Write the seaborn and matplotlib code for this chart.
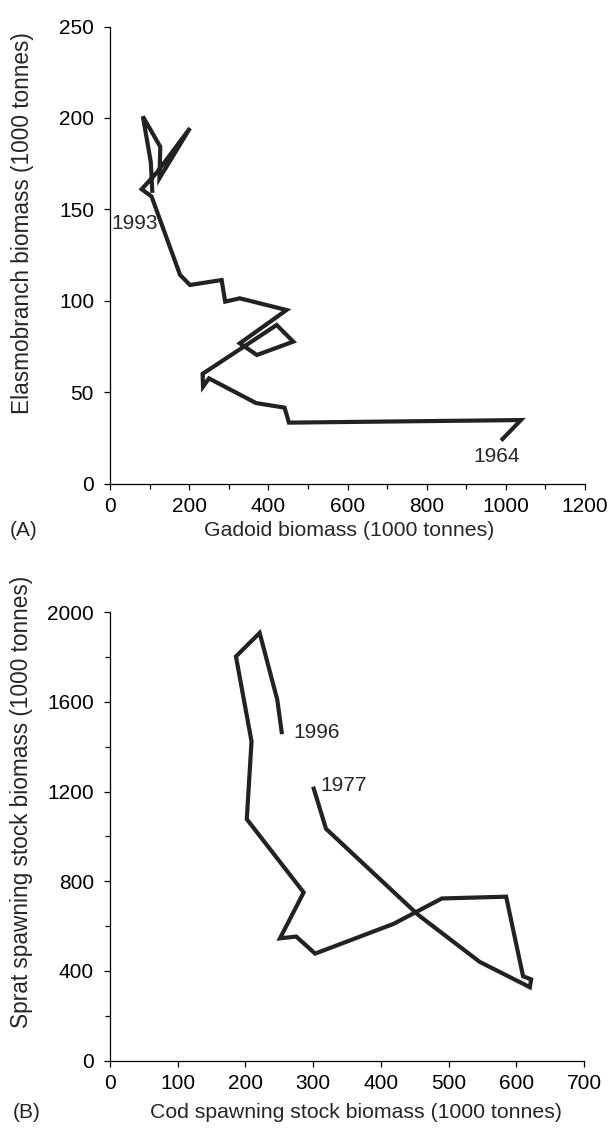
"""Elasmobranch vs gadoid and sprat vs cod biomass trajectories."""

import matplotlib
matplotlib.use("Agg")
import matplotlib.pyplot as plt
import numpy as np
import pandas as pd
import seaborn as sns
from matplotlib.ticker import MultipleLocator

# (A) North Sea, 1964 -> 1993, 1000 tonnes
gadoid = [988, 1038, 452, 441, 369, 250, 235, 234, 421, 463, 371, 328, 446,
          328, 291, 282, 202, 177, 105, 80, 118, 202, 125, 127, 83, 103, 107]
elasmo = [23.5, 34.7, 33.3, 41.5, 44.0, 57.5, 53.0, 60.0, 86.7, 77.6, 70.3, 76.7, 94.9,
          101.3, 99.5, 111.3, 108.6, 114.1, 157.0, 161.0, 170.0, 194.4, 167.0, 184.2, 200.8,
          176.0, 159.0]

# (B) Baltic, 1977 -> 1996, 1000 tonnes
cod_ssb = [300, 319, 455, 546, 620, 622, 610, 585, 490, 419, 303, 275, 251, 286,
           202, 209, 186, 221, 247, 254]
sprat_ssb = [1222, 1034, 650, 440, 327, 362, 376, 731, 723, 610, 477, 553, 545, 750,
             1077, 1424, 1803, 1908, 1610, 1456]

LINE = "#222222"
FS = 15      # tick labels, year labels
FS_X = 15.3  # x axis titles
FS_Y = 16.3  # y axis titles

sns.set_theme(style="ticks")
plt.rcParams["font.family"] = ["Liberation Sans", "DejaVu Sans"]
plt.rcParams["axes.linewidth"] = 0.9

fig = plt.figure(figsize=(6.09, 11.28), dpi=100)
W, H = 609, 1128
ax_a = fig.add_axes([110 / W, 1 - 483.5 / H, 475 / W, 457 / H])
ax_b = fig.add_axes([110 / W, 1 - 1060.5 / H, 474 / W, 448.2 / H])

df_a = pd.DataFrame({"gadoid": gadoid, "elasmo": elasmo})
df_b = pd.DataFrame({"cod": cod_ssb, "sprat": sprat_ssb})

sns.lineplot(data=df_a, x="gadoid", y="elasmo", sort=False, estimator=None,
             color=LINE, lw=3.0, ax=ax_a)
sns.lineplot(data=df_b, x="cod", y="sprat", sort=False, estimator=None,
             color=LINE, lw=3.0, ax=ax_b)
for ax in (ax_a, ax_b):
    for ln in ax.get_lines():
        ln.set_solid_joinstyle("miter")
        ln.set_solid_capstyle("butt")

# panel A
ax_a.set_xlim(0, 1200)
ax_a.set_ylim(0, 250)
ax_a.xaxis.set_major_locator(MultipleLocator(200))
ax_a.xaxis.set_minor_locator(MultipleLocator(100))
ax_a.yaxis.set_major_locator(MultipleLocator(50))
ax_a.set_xlabel("Gadoid biomass (1000 tonnes)", fontsize=FS_X, va="center")
ax_a.set_ylabel("Elasmobranch biomass (1000 tonnes)", fontsize=FS_Y, va="center")
ax_a.xaxis.set_label_coords(0.503, (483.5 - 530) / 457)
ax_a.yaxis.set_label_coords((23 - 110) / 475, 0.57)
ax_a.text(976, 14.5, "1964", fontsize=FS, ha="center", va="center")
ax_a.text(61, 142, "1993", fontsize=FS, ha="center", va="center")

# panel B
ax_b.set_xlim(0, 700)
ax_b.set_ylim(0, 2000)
ax_b.xaxis.set_major_locator(MultipleLocator(100))
ax_b.yaxis.set_major_locator(MultipleLocator(400))
ax_b.yaxis.set_minor_locator(MultipleLocator(200))
ax_b.set_xlabel("Cod spawning stock biomass (1000 tonnes)", fontsize=FS_X, va="center")
ax_b.set_ylabel("Sprat spawning stock biomass (1000 tonnes)", fontsize=FS_Y, va="center")
ax_b.xaxis.set_label_coords(0.52, (1060.5 - 1113) / 448.2)
ax_b.yaxis.set_label_coords((21.5 - 110) / 474, 0.578)
ax_b.text(271, 1464, "1996", fontsize=FS, ha="left", va="center")
ax_b.text(310, 1229, "1977", fontsize=FS, ha="left", va="center")

for ax in (ax_a, ax_b):
    sns.despine(ax=ax)
    for sp in ("left", "bottom"):
        ax.spines[sp].set_color("black")
    ax.tick_params(which="major", direction="out", length=4, width=0.9,
                   color="black", labelsize=FS, labelcolor="black")
    ax.tick_params(axis="x", which="major", pad=6)
    ax.tick_params(axis="y", which="major", pad=7.5)
    ax.tick_params(which="minor", direction="out", length=3.5, width=0.9, color="black")
    ax.grid(False)

fig.text(10 / W, 1 - 530 / H, "(A)", fontsize=FS, ha="left", va="center")
fig.text(13 / W, 1 - 1113 / H, "(B)", fontsize=FS, ha="left", va="center")

fig.savefig("out.png", dpi=100, facecolor="white")
